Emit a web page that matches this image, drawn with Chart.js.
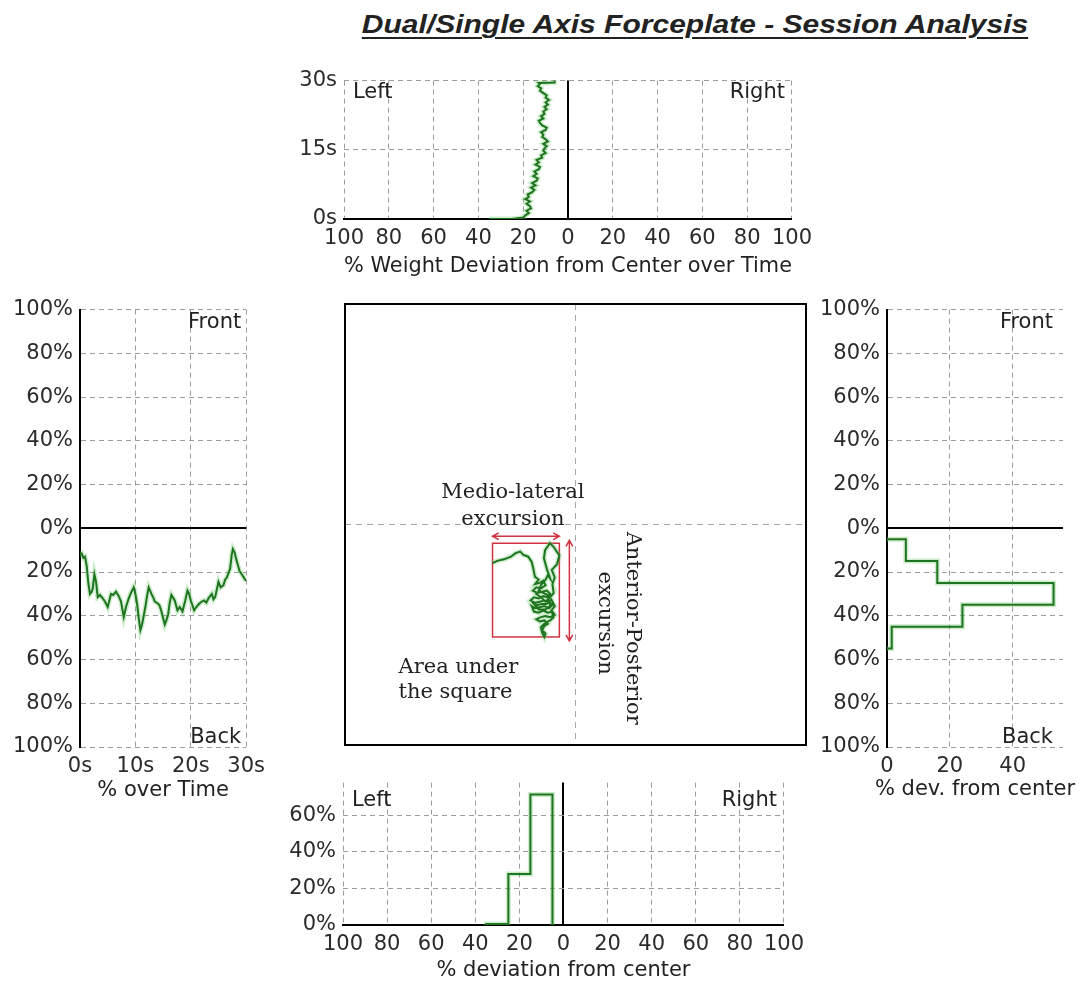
<!DOCTYPE html>
<html>
<head>
<meta charset="utf-8">
<script src="https://cdn.jsdelivr.net/npm/chart.js@4.4.1/dist/chart.umd.min.js"></script>
<style>
  body { margin: 0; background: #fff; }
  #page { position: relative; width: 1082px; height: 985px; overflow: hidden; background: #fff; }
  canvas { position: absolute; }
  #title {
    position: absolute; left: 395px; top: 9px; width: 600px; text-align: center;
    font: italic bold 25px/30px "Liberation Sans", Arial, sans-serif; color: #222;
    text-decoration: underline; text-decoration-thickness: 2px; text-underline-offset: 4px;
    transform: scaleX(1.2); transform-origin: center;
  }
</style>
</head>
<body>
<div id="page">
  <div id="title">Dual/Single Axis Forceplate - Session Analysis</div>
  <canvas id="copChart"></canvas>
  <canvas id="mlTimeChart"></canvas>
  <canvas id="apTimeChart"></canvas>
  <canvas id="apHistChart"></canvas>
  <canvas id="mlHistChart"></canvas>
</div>
<script>
// medio-lateral weight deviation over time (top panel), % (negative = left)
const mlTime = [0, 0, 0.3, 0.8, 1.3, 1.8, 2.3, 2.8, 3.3, 3.8, 4.3, 4.8, 5.3, 5.8, 6.3, 6.8, 7.3, 7.8, 8.3, 8.8,
  9.3, 9.8, 10.3, 10.8, 11.3, 11.8, 12.3, 12.8, 13.3, 13.8, 14.3, 14.8, 15.3, 15.8, 16.3, 16.8, 17.3, 17.8, 18.3, 18.8,
  19.3, 19.8, 20.3, 20.8, 21.3, 21.8, 22.3, 22.8, 23.3, 23.8, 24.3, 24.8, 25.3, 25.8, 26.3, 26.8, 27.3, 27.8, 28.3, 28.8,
  29.3, 29.5, 29.6, 30];
const mlDev = [-35, -25, -20, -19, -17.5, -18.5, -16.5, -17, -18.5, -17, -19, -17.5, -18, -16, -15, -16.5, -14.5, -16, -14, -13.5,
  -15.5, -14, -15, -13, -12.5, -14.5, -13, -14, -11.5, -12, -10, -11, -10.5, -9.5, -11, -9, -10, -11.5, -11, -12,
  -10, -9.5, -11.5, -12.5, -13, -11, -12, -10.5, -11, -9.5, -10.5, -9, -10, -8.5, -10, -9.5, -11, -12.5, -12, -13.5,
  -12.5, -13, -6, -6];

// anterior-posterior deviation over time (left panel), % (negative = back)
const apTime = [0, 0.3, 0.6, 0.9, 1.2, 1.5, 1.8, 2.1, 2.3, 2.6, 2.9, 3.2, 3.6, 4.1, 4.5, 5.0, 5.3, 5.6, 6.0, 6.5,
  7.0, 7.4, 7.9, 8.3, 8.8, 9.2, 9.7, 10.0, 10.3, 10.6, 10.9, 11.2, 11.5, 11.8, 12.1, 12.4, 12.9, 13.2, 13.5, 14.1,
  14.4, 14.7, 15.0, 15.3, 15.6, 15.9, 16.2, 16.5, 17.1, 17.6, 18.0, 18.5, 19.0, 19.4, 19.7, 20.0, 20.6, 21.0, 21.5, 22.0,
  22.4, 22.8, 23.2, 23.8, 24.1, 24.4, 25.0, 25.4, 25.9, 26.2, 26.5, 27.1, 27.4, 27.6, 27.9, 28.2, 28.8, 29.2, 29.7, 30];
const apDev = [-12, -11.5, -13.5, -13, -17, -25, -30, -29, -27.5, -21, -24.5, -31.5, -30.5, -32, -33.5, -36, -33, -30, -30.5, -29,
  -31, -33.5, -40.5, -36, -32, -29.5, -27, -30, -34.5, -41, -46.5, -44, -40, -36, -31, -27, -30, -31.5, -33.5, -34.5,
  -35.5, -38, -41, -44, -42, -39.5, -34, -30.5, -33, -37.5, -36, -38, -33, -28.5, -30, -33, -37.5, -36, -34.5, -33.5,
  -33, -34, -32, -30, -32.5, -31.5, -24.5, -27, -26, -23.5, -22.5, -18.5, -12, -9.5, -11, -14, -19.5, -21, -23, -24];

// histograms
const apBinEdges = [-5, -15, -25, -35, -45, -55];
const apBinPct = [6, 16, 53, 24, 1.5];
const mlBinEdges = [-35, -25, -15, -5];
const mlBinPct = [0.5, 28, 71.5];

// centre of pressure trace (centre panel)
const copX = [-36, -34, -31, -28, -26, -24, -22.6, -20.5, -19, -18.3, -17.6,
  -16, -17.5, -15.5, -14, -13, -15, -17, -18.5, -16.5, -14.5, -12.5, -11, -12, -14, -16, -18, -19.5, -17.5, -15.5, -13.5,
  -11.5, -10, -11.5, -13.5, -15.5, -17.5, -19, -18, -16, -14, -12, -10, -9, -11, -13, -15, -17, -15.5, -13.5, -12,
  -13.5, -14.5, -13, -13.5, -14.5, -15, -13, -11, -9.5, -10.5, -9, -10.5, -12.5, -14.5, -16.5, -18, -16, -13, -11, -12,
  -14, -16, -15, -13, -12, -11, -12,
  -12.5, -13.7, -13.2, -11.1, -9.6, -7, -8, -10.3, -9, -10, -9.5, -11, -13, -15, -17, -15];
const copY = [-17.5, -16.5, -15.8, -14.6, -13, -12.3, -13.8, -14.6, -17, -20, -23.7,
  -25, -27, -26.5, -25.5, -27.5, -29, -28.5, -30, -31, -30.5, -30, -31.5, -33, -32.5, -33.5, -33, -34.5, -35.5, -35, -34.5,
  -35, -36.5, -38, -37, -37.5, -38, -37, -39.5, -40, -39, -40, -39.5, -41, -42, -41.5, -42, -43, -44, -43.5, -45,
  -46, -48, -49.5, -51, -49, -46.5, -44.5, -43.5, -42, -39, -37, -34, -36, -36, -36.5, -36, -38.5, -38.5, -37, -32,
  -31, -30, -27.5, -25, -23, -24.5, -21.5,
  -19.9, -15.3, -11.6, -8.5, -10, -14, -18, -20.6, -24, -27, -31, -33, -35, -33, -31.5, -30];

const GRID_GREY = '#9c9c9c';
const GREEN = '#1f741f';
const HALO = 'rgba(110, 200, 110, 0.35)';
const RED = '#cf3341';

Chart.defaults.font.family = "'DejaVu Sans', sans-serif";
Chart.defaults.font.size = 21;
Chart.defaults.color = '#2b2b2b';

// corner captions inside a panel (Left/Right, Front/Back) and an optional caption under it
const cornerLabels = {
  id: 'cornerLabels',
  afterDraw(chart, args, o) {
    const { ctx, chartArea: a } = chart;
    ctx.save();
    ctx.font = "21px 'DejaVu Sans'";
    ctx.fillStyle = '#222';
    ctx.textBaseline = 'alphabetic';
    if (o.tl) { ctx.textAlign = 'left'; ctx.fillText(o.tl, a.left + o.dx, a.top + o.dy); }
    if (o.tr) { ctx.textAlign = 'right'; ctx.fillText(o.tr, a.right - o.dxr, a.top + o.dy); }
    if (o.br) { ctx.textAlign = 'right'; ctx.fillText(o.br, a.right - o.dxr, a.bottom - 4); }
    if (o.caption) {
      ctx.textAlign = 'center';
      ctx.textBaseline = 'middle';
      ctx.fillText(o.caption, (a.left + a.right) / 2, a.bottom + o.capDy);
    }
    ctx.restore();
  }
};

function drawArrow(ctx, x1, y1, x2, y2) {
  const ang = Math.atan2(y2 - y1, x2 - x1), h = 7;
  ctx.beginPath();
  ctx.moveTo(x1, y1);
  ctx.lineTo(x2, y2);
  [[x1, y1, ang + Math.PI], [x2, y2, ang]].forEach(([px, py, a]) => {
    ctx.moveTo(px - h * Math.cos(a - 0.5), py - h * Math.sin(a - 0.5));
    ctx.lineTo(px, py);
    ctx.lineTo(px - h * Math.cos(a + 0.5), py - h * Math.sin(a + 0.5));
  });
  ctx.stroke();
}

// excursion box, arrows and notes on the centre panel
const copNotes = {
  id: 'copNotes',
  beforeDatasetsDraw(chart) {
    const { ctx, scales: { x, y } } = chart;
    const x0 = x.getPixelForValue(Math.min(...copX)), x1 = x.getPixelForValue(Math.max(...copX));
    const y0 = y.getPixelForValue(Math.max(...copY)), y1 = y.getPixelForValue(Math.min(...copY));
    ctx.save();
    ctx.strokeStyle = RED;
    ctx.lineWidth = 1.5;
    ctx.strokeRect(x0, y0, x1 - x0, y1 - y0);
    drawArrow(ctx, x0, y0 - 7, x1, y0 - 7);
    drawArrow(ctx, x1 + 10, y0 - 3, x1 + 10, y1 + 4);

    ctx.fillStyle = '#222';
    ctx.font = "21px 'DejaVu Serif'";
    ctx.textAlign = 'center';
    const cx = (x0 + x1) / 2 - 13;
    ctx.fillText('Medio-lateral', cx, y0 - 45);
    ctx.fillText('excursion', cx, y0 - 18);
    ctx.textAlign = 'left';
    ctx.fillText('Area under', x0 - 94, y1 + 36);
    ctx.fillText('the square', x0 - 94, y1 + 61);

    ctx.textAlign = 'center';
    ctx.save();
    ctx.translate(x1 + 68, y0 + 85);
    ctx.rotate(Math.PI / 2);
    ctx.fillText('Anterior-Posterior', 0, 0);
    ctx.restore();
    ctx.save();
    ctx.translate(x1 + 40, y0 + 80);
    ctx.rotate(Math.PI / 2);
    ctx.fillText('excursion', 0, 0);
    ctx.restore();
    ctx.restore();
  },
  afterDatasetsDraw(chart) {
    const { ctx, chartArea: a } = chart;
    ctx.save();
    ctx.strokeStyle = '#000';
    ctx.lineWidth = 2;
    ctx.strokeRect(a.left, a.top, a.width, a.height);
    ctx.restore();
  }
};

function axis({ min, max, step, zero = true, border = false, fmt, title, size, bounds = true, labels = true }) {
  const isZero = c => zero && c.tick && c.tick.value === 0;
  return {
    type: 'linear', min, max,
    ticks: {
      display: labels, stepSize: step, padding: 7, autoSkip: false, maxRotation: 0, minRotation: 0,
      includeBounds: bounds, callback: fmt || (v => v)
    },
    grid: {
      drawTicks: false,
      color: c => isZero(c) ? '#000' : GRID_GREY,
      lineWidth: c => isZero(c) ? 2 : 1
    },
    border: { display: border, color: '#000', width: 2, dash: c => isZero(c) ? [] : [5, 4] },
    title: title ? { display: true, text: title, color: '#222', padding: 0 } : { display: false },
    afterFit: s => { if (s.isHorizontal()) s.height = size; else s.width = size; }
  };
}

// size a canvas so that its plot area lands on the given page box
function panel(id, area, yW, xH, pad) {
  const cv = document.getElementById(id);
  const left = area.left - yW - pad.left, top = area.top - pad.top;
  cv.width = area.right + pad.right - left;
  cv.height = area.bottom + xH + pad.bottom - top;
  cv.style.left = left + 'px';
  cv.style.top = top + 'px';
  return cv.getContext('2d');
}

function makeChart(ctx, points, pad, scales, corners, extra) {
  return new Chart(ctx, {
    type: 'line',
    data: {
      datasets: [
        { data: points, borderColor: GREEN, borderWidth: 2, pointRadius: 0, tension: 0, fill: false },
        { data: points, borderColor: HALO, borderWidth: 5, pointRadius: 0, tension: 0, fill: false }
      ]
    },
    options: {
      responsive: false, animation: false, events: [],
      layout: { padding: pad },
      plugins: { legend: { display: false }, tooltip: { enabled: false }, cornerLabels: corners || false },
      scales
    },
    plugins: [cornerLabels].concat(extra || [])
  });
}

const pct = v => Math.abs(v) + '%';

// top: ML deviation over time
{
  const pad = { left: 0, top: 14, right: 22, bottom: 0 };
  const ctx = panel('mlTimeChart', { left: 344, top: 75, right: 797, bottom: 219 }, 54, 60, pad);
  makeChart(ctx, mlTime.map((t, i) => ({ x: mlDev[i], y: t })), pad, {
    x: axis({ min: -100, max: 100, step: 20, border: true, fmt: v => Math.abs(v), title: '% Weight Deviation from Center over Time', size: 60 }),
    y: axis({ min: 0, max: 30, step: 15, zero: false, fmt: v => v + 's', size: 54 })
  }, { tl: 'Left', tr: 'Right', dx: 9, dxr: 7, dy: 17 });
}

// left: AP deviation over time
{
  const pad = { left: 0, top: 14, right: 22, bottom: 0 };
  const ctx = panel('apTimeChart', { left: 80, top: 304, right: 250, bottom: 747 }, 80, 56, pad);
  makeChart(ctx, apTime.map((t, i) => ({ x: t, y: apDev[i] })), pad, {
    x: axis({ min: 0, max: 30, step: 10, zero: false, fmt: v => v + 's', title: '% over Time', size: 56 }),
    y: axis({ min: -100, max: 100, step: 20, border: true, fmt: pct, size: 80 })
  }, { tr: 'Front', br: 'Back', dxr: 5, dy: 18 });
}

// right: AP histogram
{
  const pad = { left: 0, top: 14, right: 19, bottom: 0 };
  const ctx = panel('apHistChart', { left: 887, top: 304, right: 1063, bottom: 747 }, 72, 56, pad);
  const pts = [{ x: 0, y: apBinEdges[0] }];
  apBinPct.forEach((p, i) => pts.push({ x: p, y: apBinEdges[i] }, { x: p, y: apBinEdges[i + 1] }));
  pts.push({ x: 0, y: apBinEdges[apBinEdges.length - 1] });
  makeChart(ctx, pts, pad, {
    x: axis({ min: 0, max: 56, step: 20, zero: false, bounds: false, size: 56 }),
    y: axis({ min: -100, max: 100, step: 20, border: true, fmt: pct, size: 72 })
  }, { tr: 'Front', br: 'Back', dxr: 10, dy: 18, caption: '% dev. from center', capDy: 43 });
}

// bottom: ML histogram
{
  const pad = { left: 0, top: 14, right: 22, bottom: 0 };
  const ctx = panel('mlHistChart', { left: 343, top: 777, right: 789, bottom: 925 }, 53, 58, pad);
  const pts = [{ x: mlBinEdges[0], y: 0 }];
  mlBinPct.forEach((p, i) => pts.push({ x: mlBinEdges[i], y: p }, { x: mlBinEdges[i + 1], y: p }));
  pts.push({ x: mlBinEdges[mlBinEdges.length - 1], y: 0 });
  makeChart(ctx, pts, pad, {
    x: axis({ min: -100, max: 100, step: 20, border: true, fmt: v => Math.abs(v), title: '% deviation from center', size: 58 }),
    y: axis({ min: 0, max: 78, step: 20, zero: false, bounds: false, fmt: v => v + '%', size: 53 })
  }, { tl: 'Left', tr: 'Right', dx: 9, dxr: 7, dy: 23 });
}

// centre: centre of pressure trace
{
  const pad = { left: 3, top: 3, right: 3, bottom: 3 };
  const ctx = panel('copChart', { left: 345, top: 304, right: 806, bottom: 745 }, 0, 0, pad);
  const centreAxis = () => {
    const a = axis({ min: -100, max: 100, step: 100, zero: false, labels: false, size: 0 });
    a.grid.color = c => (c.tick && c.tick.value === 0) ? '#a8a8a8' : 'rgba(0,0,0,0)';
    a.border.dash = [6, 5];
    return a;
  };
  makeChart(ctx, copX.map((x, i) => ({ x, y: copY[i] })), pad, {
    x: centreAxis(),
    y: centreAxis()
  }, false, [copNotes]);
}
</script>
</body>
</html>
